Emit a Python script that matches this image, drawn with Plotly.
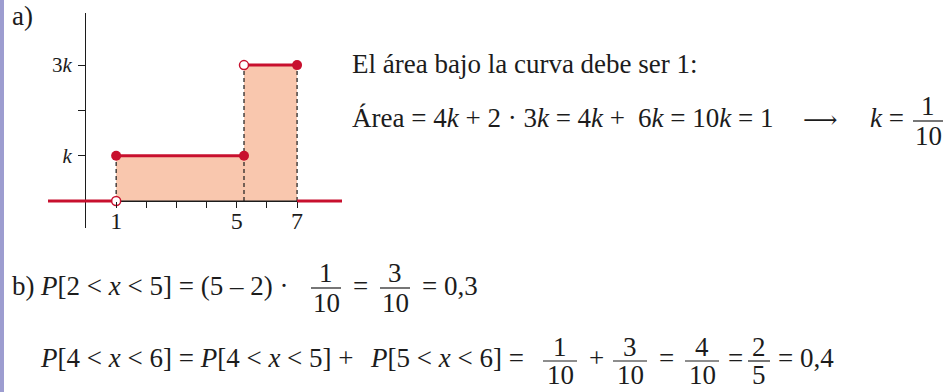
import plotly.graph_objects as go

# density drawn in the figure (heights in units of k)
x_breaks = [1, 5.24, 7]          # jump drawn just right of tick 5, as in the original
levels = [1, 3]
x_left, x_right = -1.26, 8.49    # where the red f(x)=0 line starts / ends
x_ticks = [1, 2, 3, 4, 5, 6, 7]
x_tick_labels = ["1", "", "", "", "5", "", "7"]
y_ticks = [1, 2, 3]
y_tick_labels = ["<i>k</i>", "", "3<i>k</i>"]

W, H = 948, 392
RED = "#c8102e"
FILL = "#f9c7ae"
INK = "#1c1c1c"
SERIF = "Liberation Serif"


def px(x):
    return x / W


def py(y):
    return 1 - y / H


fig = go.Figure()

# shaded area under the curve
fig.add_trace(go.Scatter(
    x=[x_breaks[0], x_breaks[0], x_breaks[1], x_breaks[1], x_breaks[2], x_breaks[2]],
    y=[0, levels[0], levels[0], levels[1], levels[1], 0],
    fill="toself", fillcolor=FILL, mode="none", hoverinfo="skip"))

# x axis segment under the shaded area
fig.add_trace(go.Scatter(x=[x_breaks[0], x_breaks[-1]], y=[0, 0], mode="lines",
                         line=dict(color=INK, width=1.2), hoverinfo="skip"))

# dashed guides
for xv, top in [(x_breaks[0], levels[0]), (x_breaks[1], levels[1]), (x_breaks[2], levels[1])]:
    fig.add_trace(go.Scatter(x=[xv, xv], y=[0, top], mode="lines",
                             line=dict(color=INK, width=1.2, dash="4px,3px"), hoverinfo="skip"))

# red pieces of f(x)
segs = [([x_left, x_breaks[0]], [0, 0]),
        ([x_breaks[0], x_breaks[1]], [levels[0], levels[0]]),
        ([x_breaks[1], x_breaks[2]], [levels[1], levels[1]]),
        ([x_breaks[2], x_right], [0, 0])]
for sx, sy in segs:
    fig.add_trace(go.Scatter(x=sx, y=sy, mode="lines", line=dict(color=RED, width=3),
                             hoverinfo="skip"))

# closed and open end points
fig.add_trace(go.Scatter(
    x=[x_breaks[0], x_breaks[1], x_breaks[2]], y=[levels[0], levels[0], levels[1]],
    mode="markers", marker=dict(color=RED, size=10), hoverinfo="skip"))
fig.add_trace(go.Scatter(
    x=[x_breaks[0], x_breaks[1]], y=[0, levels[1]],
    mode="markers", marker=dict(color="white", size=9, line=dict(color=RED, width=1.5)),
    hoverinfo="skip"))

fig.update_layout(
    width=W, height=H, margin=dict(l=0, r=0, t=0, b=0),
    paper_bgcolor="white", plot_bgcolor="rgba(0,0,0,0)", showlegend=False,
    xaxis=dict(domain=[px(48), px(342)], range=[x_left, x_right],
               showgrid=False, zeroline=True, zerolinecolor=INK, zerolinewidth=1.2,
               anchor="free", position=py(201),
               tickvals=x_ticks, ticktext=x_tick_labels, ticks="outside",
               ticklen=6, tickwidth=1.2, tickcolor=INK, ticklabelstandoff=-8,
               tickfont=dict(family=SERIF, size=24, color=INK)),
    yaxis=dict(domain=[py(228), py(13)], range=[-0.596, 4.15],
               showgrid=False, zeroline=True, zerolinecolor=INK, zerolinewidth=1.2,
               anchor="free", position=px(86),
               tickvals=y_ticks, ticktext=y_tick_labels, ticks="outside",
               ticklen=8, tickwidth=1.2, tickcolor=INK, ticklabelstandoff=2,
               tickfont=dict(family=SERIF, size=21, color=INK)),
)

# left margin bar
fig.add_shape(type="rect", xref="paper", yref="paper", x0=0, x1=px(4), y0=0, y1=1,
              fillcolor="#9d9dd0", line=dict(width=0))


def txt(s, x, y, size=27, anchor="left", family=SERIF):
    fig.add_annotation(text=s, x=px(x), y=py(y), xref="paper", yref="paper",
                       xanchor=anchor, yanchor="middle", showarrow=False,
                       font=dict(family=family, size=size, color=INK))


def frac(num, den, cx, bar_y, half, gap=15):
    txt(num, cx, bar_y - gap, anchor="center")
    txt(den, cx, bar_y + gap, anchor="center")
    fig.add_shape(type="line", xref="paper", yref="paper",
                  x0=px(cx - half), x1=px(cx + half), y0=py(bar_y), y1=py(bar_y),
                  line=dict(color=INK, width=1.2))


txt("a)", 10, 16)

txt("El área bajo la curva debe ser 1:", 350, 64)
txt("Área = 4<i>k</i> + 2 · 3<i>k</i> = 4<i>k</i> +", 350, 118)
txt("6<i>k</i> = 10<i>k</i> = 1", 636, 118)
txt("⟶", 820, 120, size=24, anchor="center", family="DejaVu Serif")
txt("<i>k</i> =", 868, 118)
frac("1", "10", 928, 121, 15)

txt("b)", 10, 286)
txt("<i>P</i>[2 &lt; <i>x</i> &lt; 5] = (5 – 2) ·", 38, 286)
frac("1", "10", 326, 288, 15)
txt("=", 360, 286, anchor="center")
frac("3", "10", 395, 288, 15)
txt("= 0,3", 420, 286)

txt("<i>P</i>[4 &lt; <i>x</i> &lt; 6] = <i>P</i>[4 &lt; <i>x</i> &lt; 5] +", 38, 358)
txt("<i>P</i>[5 &lt; <i>x</i> &lt; 6] =", 368, 358)
frac("1", "10", 560, 361, 17, gap=14)
txt("+", 596, 358, anchor="center")
frac("3", "10", 630, 361, 17, gap=14)
txt("=", 666, 358, anchor="center")
frac("4", "10", 702, 361, 17, gap=14)
txt("=", 735, 358, anchor="center")
frac("2", "5", 759, 361, 11, gap=14)
txt("= 0,4", 776, 358)

fig.write_html("out.html", config={"displayModeBar": False},
               post_script="document.body.style.margin='0';")
